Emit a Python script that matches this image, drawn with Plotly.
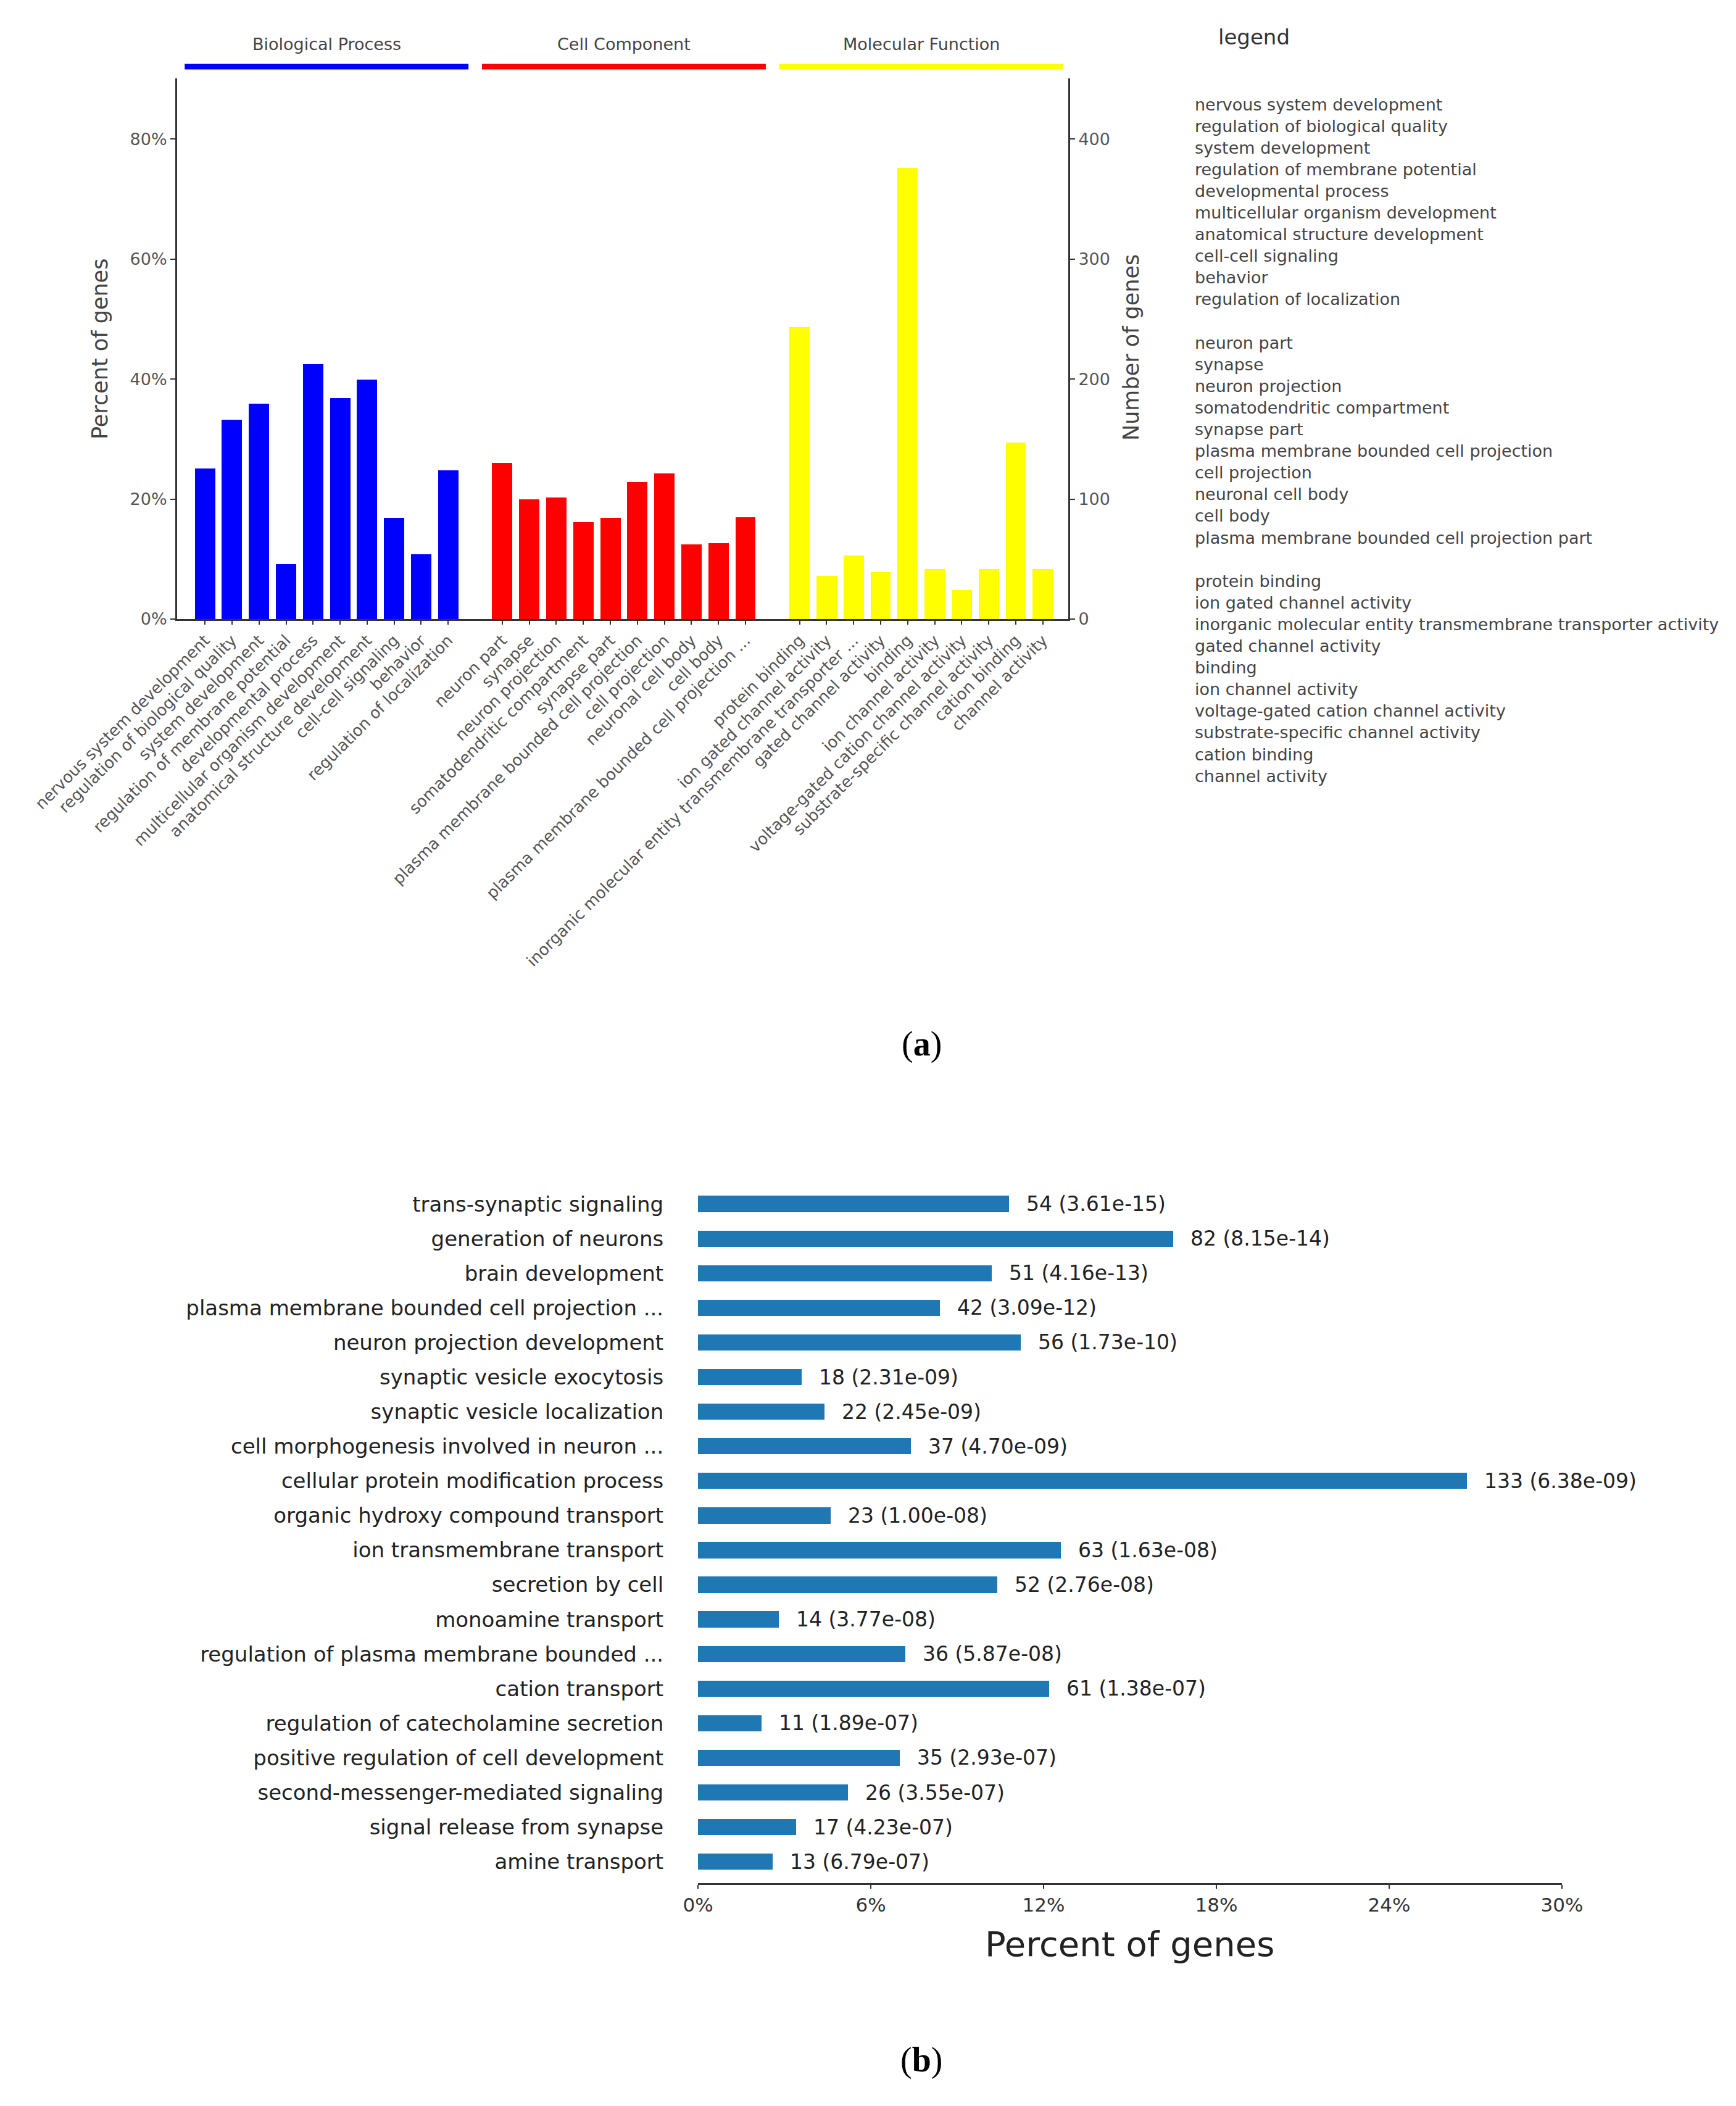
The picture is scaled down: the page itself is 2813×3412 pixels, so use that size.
import plotly.graph_objects as go

W, H = 2813, 3412

# ---------------- data: panel (a) ----------------
bp_terms = ["nervous system development", "regulation of biological quality", "system development",
            "regulation of membrane potential", "developmental process", "multicellular organism development",
            "anatomical structure development", "cell-cell signaling", "behavior", "regulation of localization"]
cc_terms = ["neuron part", "synapse", "neuron projection", "somatodendritic compartment", "synapse part",
            "plasma membrane bounded cell projection", "cell projection", "neuronal cell body", "cell body",
            "plasma membrane bounded cell projection part"]
mf_terms = ["protein binding", "ion gated channel activity",
            "inorganic molecular entity transmembrane transporter activity", "gated channel activity", "binding",
            "ion channel activity", "voltage-gated cation channel activity", "substrate-specific channel activity",
            "cation binding", "channel activity"]
cc_ticklabels = cc_terms[:9] + ["plasma membrane bounded cell projection ..."]
mf_ticklabels = mf_terms[:2] + ["inorganic molecular entity transmembrane transporter ..."] + mf_terms[3:]

bp_pct = [25.1, 33.2, 35.9, 9.2, 42.5, 36.8, 39.9, 16.9, 10.8, 24.8]
cc_pct = [26.0, 20.0, 20.3, 16.2, 16.9, 22.8, 24.3, 12.4, 12.7, 17.0]
mf_pct = [48.6, 7.2, 10.6, 7.8, 75.2, 8.3, 4.8, 8.3, 29.4, 8.3]

group_names = ["Biological Process", "Cell Component", "Molecular Function"]
group_colors = ["#0000FF", "#FF0000", "#FFFF00"]
pct_ticks = [0, 20, 40, 60, 80]
count_ticks = [0, 100, 200, 300, 400]

# ---------------- data: panel (b) ----------------
b_terms = ["trans-synaptic signaling", "generation of neurons", "brain development",
           "plasma membrane bounded cell projection ...", "neuron projection development",
           "synaptic vesicle exocytosis", "synaptic vesicle localization",
           "cell morphogenesis involved in neuron ...", "cellular protein modification process",
           "organic hydroxy compound transport", "ion transmembrane transport", "secretion by cell",
           "monoamine transport", "regulation of plasma membrane bounded ...", "cation transport",
           "regulation of catecholamine secretion", "positive regulation of cell development",
           "second-messenger-mediated signaling", "signal release from synapse", "amine transport"]
b_counts = [54, 82, 51, 42, 56, 18, 22, 37, 133, 23, 63, 52, 14, 36, 61, 11, 35, 26, 17, 13]
b_pvals = ["3.61e-15", "8.15e-14", "4.16e-13", "3.09e-12", "1.73e-10", "2.31e-09", "2.45e-09", "4.70e-09",
           "6.38e-09", "1.00e-08", "1.63e-08", "2.76e-08", "3.77e-08", "5.87e-08", "1.38e-07", "1.89e-07",
           "2.93e-07", "3.55e-07", "4.23e-07", "6.79e-07"]
b_pct = [10.8, 16.5, 10.2, 8.4, 11.2, 3.6, 4.4, 7.4, 26.7, 4.6, 12.6, 10.4, 2.8, 7.2, 12.2, 2.2, 7.0, 5.2, 3.4, 2.6]
b_ticks = [0, 6, 12, 18, 24, 30]


def px(x):
    return x / W


def py(y):
    return 1 - y / H


FONT = "DejaVu Sans"
fig = go.Figure()

# ---- panel (a) bars ----
groups = [(bp_terms, bp_pct, bp_terms), (cc_terms, cc_pct, cc_ticklabels), (mf_terms, mf_pct, mf_ticklabels)]
tickvals, ticktext = [], []
start = 0
group_ranges = []
for gi, (terms, vals, tlabels) in enumerate(groups):
    xs = list(range(start, start + len(terms)))
    fig.add_trace(go.Bar(x=xs, y=vals, width=0.75, marker=dict(color=group_colors[gi], line=dict(width=0)),
                         xaxis="x", yaxis="y", hovertext=terms, showlegend=False))
    tickvals += xs
    ticktext += tlabels
    group_ranges.append((xs[0], xs[-1]))
    start += len(terms) + 1

# dummy trace to realise the right-hand axis
fig.add_trace(go.Scatter(x=[0], y=[0], xaxis="x", yaxis="y2", mode="markers",
                         marker=dict(opacity=0), hoverinfo="skip", showlegend=False))

# ---- panel (b) bars ----
fig.add_trace(go.Bar(y=b_terms, x=b_pct, orientation="h", width=0.47,
                     marker=dict(color="#1f77b4", line=dict(width=0)),
                     xaxis="x2", yaxis="y3", showlegend=False))

annotations = []
shapes = []

# group headers
for gi, (a, b) in enumerate(group_ranges):
    shapes.append(dict(type="line", xref="x", yref="paper", x0=a - 0.75, x1=b + 0.75,
                       y0=py(100), y1=py(100), line=dict(color=group_colors[gi], width=9)))
    annotations.append(dict(text=group_names[gi], xref="x", yref="paper", x=(a + b) / 2, y=py(64),
                            showarrow=False, xanchor="center", yanchor="middle",
                            font=dict(family=FONT, size=27, color="#444")))

# axis titles panel (a)
annotations.append(dict(text="Percent of genes", xref="paper", yref="paper", x=px(154), y=py(558),
                        textangle=-90, showarrow=False, xanchor="center", yanchor="middle",
                        font=dict(family=FONT, size=35, color="#444")))
annotations.append(dict(text="Number of genes", xref="paper", yref="paper", x=px(1825), y=py(555),
                        textangle=-90, showarrow=False, xanchor="center", yanchor="middle",
                        font=dict(family=FONT, size=35, color="#444")))

# legend block
annotations.append(dict(text="legend", xref="paper", yref="paper", x=px(2024), y=py(52),
                        showarrow=False, xanchor="center", yanchor="middle",
                        font=dict(family=FONT, size=34, color="#333")))
legend_lines = bp_terms + [""] + cc_terms + [""] + mf_terms
for k, t in enumerate(legend_lines):
    if t:
        annotations.append(dict(text=t, xref="paper", yref="paper", x=px(1926), y=py(161 + 35.1 * k),
                                showarrow=False, xanchor="left", yanchor="middle",
                                font=dict(family=FONT, size=27, color="#444")))

# panel labels
annotations.append(dict(text="(<b>a</b>)", xref="paper", yref="paper", x=px(1485), y=py(1684),
                        showarrow=False, xanchor="center", yanchor="middle",
                        font=dict(family="Liberation Serif", size=56, color="#000")))
annotations.append(dict(text="(<b>b</b>)", xref="paper", yref="paper", x=px(1485), y=py(3329),
                        showarrow=False, xanchor="center", yanchor="middle",
                        font=dict(family="Liberation Serif", size=56, color="#000")))

# panel (b) value labels
for t, v, n, p in zip(b_terms, b_pct, b_counts, b_pvals):
    annotations.append(dict(text=f"{n} ({p})", xref="x2", yref="y3", x=v, y=t, xshift=26,
                            showarrow=False, xanchor="left", yanchor="middle",
                            font=dict(family=FONT, size=33, color="#222")))
annotations.append(dict(text="Percent of genes", xref="paper", yref="paper", x=px(1823), y=py(3141),
                        showarrow=False, xanchor="center", yanchor="middle",
                        font=dict(family=FONT, size=56, color="#222")))

AX = "#333"
fig.update_layout(
    width=W, height=H, margin=dict(l=0, r=0, t=0, b=0, autoexpand=False),
    paper_bgcolor="white", plot_bgcolor="white", showlegend=False, bargap=0,
    xaxis=dict(domain=[px(279), px(1723)], range=[-1.03, 31.94], anchor="y", automargin=False,
               tickmode="array", tickvals=tickvals, ticktext=ticktext, tickangle=-45,
               ticks="outside", ticklen=6, tickwidth=2, tickcolor=AX,
               showline=True, linecolor=AX, linewidth=3, showgrid=False, zeroline=False,
               tickfont=dict(family=FONT, size=26, color="#555")),
    yaxis=dict(domain=[py(995), py(119)], range=[0, 90.1], anchor="x", automargin=False,
               tickmode="array", tickvals=pct_ticks, ticktext=[f"{v}%" for v in pct_ticks],
               ticks="outside", ticklen=8, tickwidth=2, tickcolor=AX,
               showline=True, linecolor=AX, linewidth=3, showgrid=False, zeroline=False,
               tickfont=dict(family=FONT, size=27, color="#555")),
    yaxis2=dict(overlaying="y", side="right", anchor="x", range=[0, 450.5], automargin=False,
                tickmode="array", tickvals=count_ticks, ticktext=[str(v) for v in count_ticks],
                ticks="outside", ticklen=8, tickwidth=2, tickcolor=AX,
                showline=True, linecolor=AX, linewidth=3, showgrid=False, zeroline=False,
                tickfont=dict(family=FONT, size=27, color="#555")),
    xaxis2=dict(domain=[px(1123), px(2523)], range=[0, 30], anchor="y3", automargin=False,
                tickmode="array", tickvals=b_ticks, ticktext=[f"{v}%" for v in b_ticks],
                ticks="outside", ticklen=6, tickwidth=2, tickcolor=AX,
                showline=True, linecolor=AX, linewidth=3, showgrid=False, zeroline=False,
                tickfont=dict(family=FONT, size=31, color="#333")),
    yaxis3=dict(domain=[py(3043), py(1909)], range=[19.62, -0.6], anchor="x2", type="category",
                categoryorder="array", categoryarray=b_terms, automargin=False,
                ticks="outside", ticklen=48, tickcolor="rgba(0,0,0,0)",
                showline=False, showgrid=False, zeroline=False,
                tickfont=dict(family=FONT, size=34, color="#222")),
    annotations=annotations, shapes=shapes,
)

fig.write_html("out.html")
